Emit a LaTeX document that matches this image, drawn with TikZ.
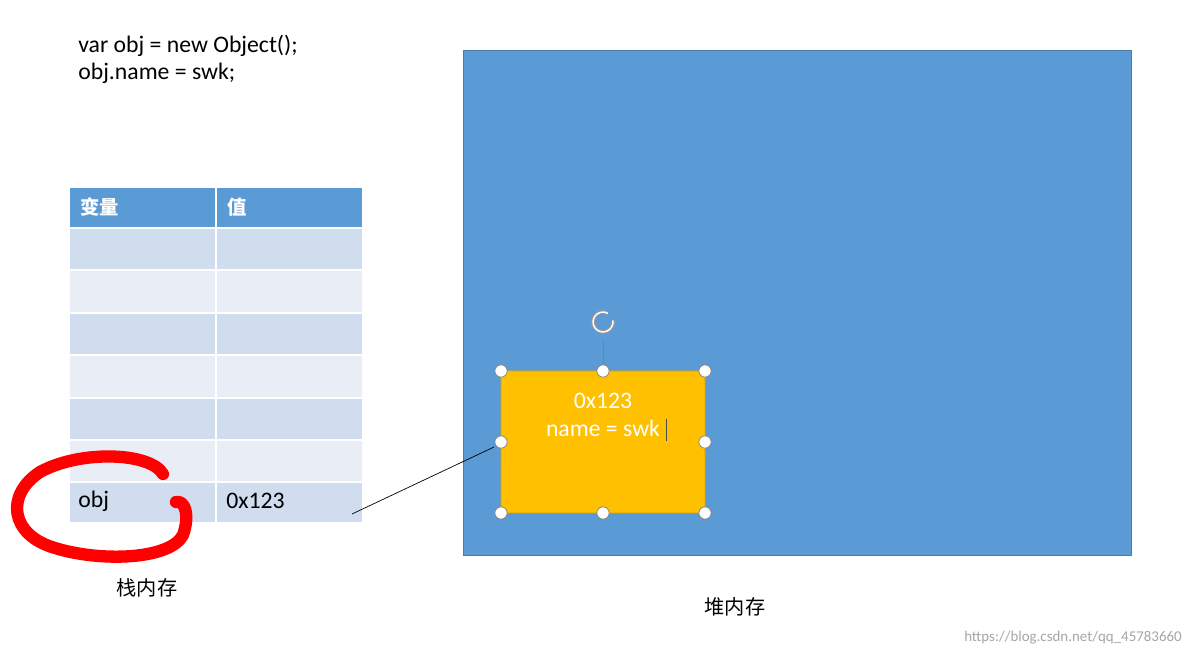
\documentclass[tikz,border=0pt]{standalone}
\usepackage{fontspec}
\setmainfont{Carlito}
\newfontfamily\cjk{Noto Sans CJK SC}
\usetikzlibrary{arrows.meta}
\definecolor{hb}{HTML}{5B9BD5}
\definecolor{ra}{HTML}{CFDDEE}
\definecolor{rb}{HTML}{E9EEF6}
\definecolor{og}{HTML}{FFC000}
\tikzset{cell/.style={draw=white,line width=1.2pt},
handle/.style={circle,draw=gray,fill=white,inner sep=0pt,minimum size=7pt},
txt/.style={inner sep=0pt,anchor=west,font=\fontsize{13.5}{15}\selectfont}}
\begin{document}
\begin{tikzpicture}[x=0.02cm,y=-0.02cm]
\useasboundingbox (0,0) rectangle (1194,658);
\fill[white] (0,0) rectangle (1194,658);
\node[txt] (l1) at (78,46) {var obj = new Object();};
\node[txt] (l2) at (78,73) {obj.name = swk;};
% table
\fill[cell,fill=hb] (69,187) rectangle (216,228);
\fill[cell,fill=hb] (216,187) rectangle (363,228);
\foreach \a/\b/\c in {228/270/ra,270/313/rb,313/355/ra,355/398/rb,398/440/ra,440/482/rb,482/523/ra}{
 \filldraw[cell,fill=\c] (69,\a) rectangle (216,\b);
 \filldraw[cell,fill=\c] (216,\a) rectangle (363,\b);}
\node[txt,text=white,font=\cjk\bfseries\fontsize{11}{13}\selectfont] (h1) at (80,207) {变量};
\node[txt,text=white,font=\cjk\bfseries\fontsize{11}{13}\selectfont] (h2) at (227,207) {值};
\node[txt] (v1) at (78,501) {obj};
\node[txt] (v2) at (226,501) {0x123};
% red loop
\draw[red,line width=7pt,line cap=round,line join=round]
 (163,474) .. controls (150,452) and (80,450) .. (40,472)
 .. controls (5,495) and (10,535) .. (55,548)
 .. controls (100,562) and (170,560) .. (183,535)
 .. controls (190,515) and (185,500) .. (176,502);
\node[font=\cjk\fontsize{11.5}{13}\selectfont] (stack) at (147,588) {栈内存};
% heap
\filldraw[fill=hb,draw=hb!80!black] (463,50) rectangle (1131,555);
\node[font=\cjk\fontsize{11.5}{13}\selectfont] (heap) at (735,607) {堆内存};
\filldraw[fill=og,draw=og!85!black,rounded corners=2pt] (501,371) rectangle (705,513);
\node[text=white,font=\fontsize{13.5}{16}\selectfont,align=center] (obx) at (603,415) {0x123\\name = swk};
\draw[black!70] (666,419) -- (666,441);
\coordinate (rt) at (603,322);
\draw[gray] (603,340) -- (603,371);
\draw[gray!80,line width=2pt,-{Stealth[length=4pt]}] ([shift={(300:10)}]rt) arc (300:-20:10);
\draw[white,line width=0.8pt] ([shift={(300:10)}]rt) arc (300:-10:10);
\foreach \p in {(501,371),(603,371),(705,371),(501,442),(705,442),(501,513),(603,513),(705,513)}
 \node[handle] at \p {};
\coordinate (ls) at (352,514);
\coordinate (le) at (494,447);
\draw[black,thin] (ls) -- (le);
\node[anchor=east,text=gray!70,font=\fontsize{8.5}{10}\selectfont] (wm) at (1188,638) {https://blog.csdn.net/qq\_45783660};
\end{tikzpicture}
\end{document}
